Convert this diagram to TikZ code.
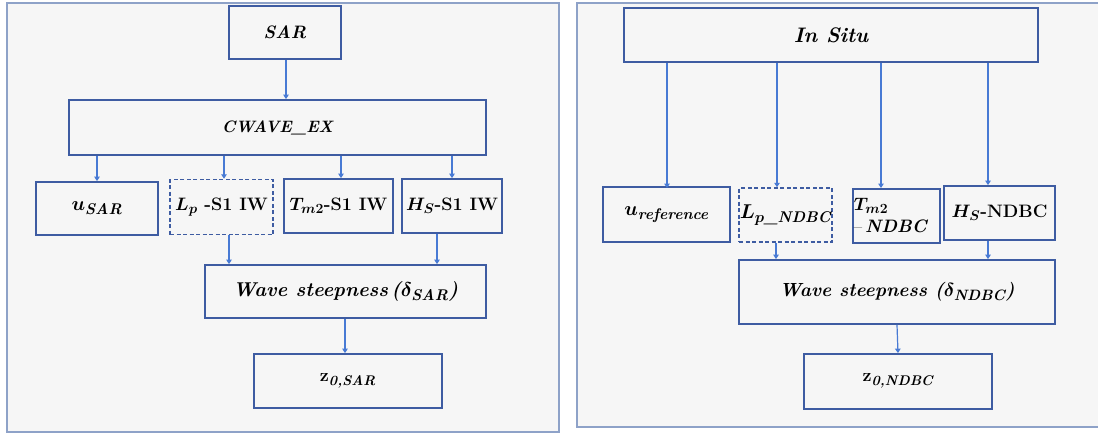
\RequirePackage{fix-cm}
\documentclass[tikz,border=0pt]{standalone}
\usepackage{amsmath,bm}
\usepackage{fontspec}
\setmainfont{Latin Modern Roman}
\usetikzlibrary{arrows.meta}
\DeclareMathSizes{18}{18}{14}{11}
\DeclareMathSizes{19}{19}{15}{12}
\DeclareMathSizes{20}{20}{15.5}{12}
\definecolor{panelc}{RGB}{142,162,200}
\definecolor{panelfill}{RGB}{246,246,246}
\definecolor{boxc}{RGB}{62,92,162}
\definecolor{arrc}{RGB}{72,122,212}
\newcommand{\bi}[1]{\text{\bfseries\itshape #1}}
\begin{document}
\begin{tikzpicture}[x=1pt,y=-1pt,
  panel/.style={draw=panelc, line width=1.4pt, fill=panelfill},
  box/.style={draw=boxc, line width=1.8pt, fill=panelfill, inner sep=0pt, align=center,
    font=\fontsize{18}{21}\selectfont\bfseries},
  big/.style={font=\fontsize{20}{23}\selectfont\bfseries},
  dbox/.style={box, line width=1.5pt, dash pattern=on 4pt off 2.5pt},
  arr/.style={draw=arrc, line width=1.2pt, -{Triangle[width=5.5pt,length=4.5pt]}}]
\useasboundingbox (0,0) rectangle (1098,436);
\fill[white] (0,0) rectangle (1098,436);
% panels
\draw[panel] (7,3) rectangle (559,432);
\draw[panel] (577,3) rectangle (1112,427);
% ---------- left panel ----------
\node[box, minimum width=112, minimum height=53] (sar) at (285,32.5) {\itshape SAR};
\node[box, minimum width=417, minimum height=55, font=\fontsize{16.5}{19}\selectfont\bfseries] (cw) at (277.5,127.5) {\itshape CWAVE\_EX};
\node[box, big, minimum width=122, minimum height=53] (us) at (97,208.5) {$\bm{u}_{\bi{SAR}}$};
\node[dbox, minimum width=103, minimum height=55] (lp) at (221.5,207) {$\bm{L}_{\bm{p}}$ -S1 IW};
\node[box, minimum width=109, minimum height=54] (tm) at (338.5,206) {$\bm{T}_{\bm{m}\mathbf{2}}$-S1 IW};
\node[box, minimum width=100, minimum height=54] (hs) at (452,206) {$\bm{H}_{\bm{S}}$-S1 IW};
\node[box, big, minimum width=281, minimum height=53] (wave) at (345.5,291.5) {\itshape Wave steepness\,($\bm{\delta}_{\bi{SAR}}$)};
\node[box, minimum width=188, minimum height=54] (z) at (348,381) {\raisebox{7pt}{$\mathbf{z}_{\bi{0,SAR}}$}};
% arrows left
\coordinate (a0) at ([xshift=1pt]sar.south);
\draw[arr] (a0) -- (a0 |- cw.north);
\draw[arr] (cw.south -| us) -- (us.north);
\coordinate (a2) at ([xshift=2.5pt]lp.north);
\draw[arr] (cw.south -| a2) -- (a2);
\coordinate (a3) at ([xshift=2.5pt]tm.north);
\draw[arr] (cw.south -| a3) -- (a3);
\draw[arr] (cw.south -| hs) -- (hs.north);
\coordinate (a5) at ([xshift=7.5pt]lp.south);
\draw[arr] (a5) -- (a5 |- wave.north);
\coordinate (a6) at ([xshift=-15pt]hs.south);
\draw[arr] (a6) -- (a6 |- wave.north);
\coordinate (a7) at ([xshift=-0.5pt]wave.south);
\draw[arr] (a7) -- (a7 |- z.north);
% ---------- right panel ----------
\node[box, minimum width=414, minimum height=54, font=\fontsize{21}{24}\selectfont\bfseries] (insitu) at (831,35) {\itshape In Situ};
\node[box, big, minimum width=127, minimum height=55] (ur) at (666.5,214.5) {$\bm{u}_{\bi{reference}}$};
\node[dbox, big, minimum width=93, minimum height=54] (rlp) at (785.5,215) {$\bm{L}_{\bm{p}\bi{\_NDBC}}$};
\node[box, minimum width=87, minimum height=54, align=left, anchor=north west, text width=85pt] (rtm) at (852,188)
  {$\bm{T}_{\bm{m}\mathbf{2}}$\\[1pt]{\mdseries --}\,\textit{NDBC}};
\node[box, minimum width=111, minimum height=54] (rhs) at (999.5,213) {$\bm{H}_{\bm{S}}$-NDBC};
\node[box, font=\fontsize{19}{22}\selectfont\bfseries, minimum width=316, minimum height=64] (rwave) at (897,292) {\itshape Wave steepness ($\bm{\delta}_{\bi{NDBC}}$)};
\node[box, minimum width=188, minimum height=55] (rz) at (898,381.5) {\raisebox{7pt}{$\mathbf{z}_{\bi{0,NDBC}}$}};
% arrows right
\coordinate (b1) at (667,188);
\draw[arr] (insitu.south -| b1) -- (b1);
\coordinate (b2) at ([xshift=-8.5pt]rlp.north);
\draw[arr] (insitu.south -| b2) -- (b2);
\coordinate (b3) at (881,188);
\draw[arr] (insitu.south -| b3) -- (b3);
\coordinate (b4) at ([xshift=-11.5pt]rhs.north);
\draw[arr] (insitu.south -| b4) -- (b4);
\coordinate (b5) at ([xshift=-9.5pt]rlp.south);
\draw[arr] (b5) -- (b5 |- rwave.north);
\coordinate (b6) at ([xshift=-11.5pt]rhs.south);
\draw[arr] (b6) -- (b6 |- rwave.north);
\draw[arr] (rwave.south) -- (rz.north);
\end{tikzpicture}
\end{document}
